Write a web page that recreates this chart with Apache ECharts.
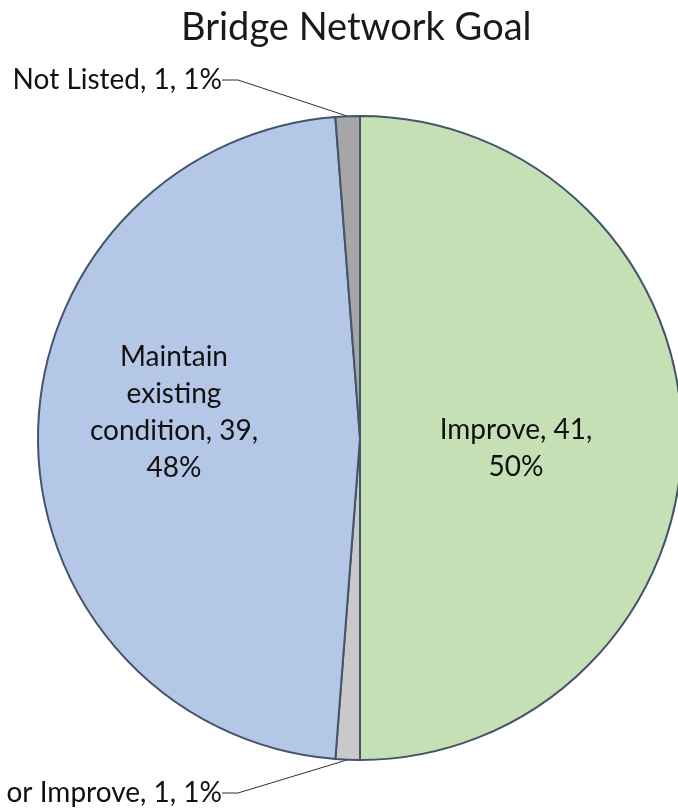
<!DOCTYPE html>
<html>
<head>
<meta charset="utf-8">
<script src="https://cdn.jsdelivr.net/npm/echarts@6/dist/echarts.min.js"></script>
<style>
html,body{margin:0;padding:0;background:#fff;}
#chart{width:678px;height:808px;}
</style>
</head>
<body>
<div id="chart"></div>
<script>
const titleText = 'Bridge Network Goal';
const categories = ['Improve', 'Maintain or Improve', 'Maintain existing\ncondition', 'Not Listed'];
const values = [41, 1, 39, 1];
const colors = ['#C5E0B4', '#C9C9C9', '#B4C7E7', '#A6A6A6'];
const labelModes = ['inside', 'outside', 'inside', 'outside'];

const total = values.reduce((a, b) => a + b, 0);
const FONT = 'Lato, "Open Sans", sans-serif';

const data = categories.map((c, i) => ({
  name: c,
  value: values[i],
  itemStyle: { color: colors[i] },
  label: labelModes[i] === 'inside'
    ? { position: 'inside' }
    : { position: 'outside' },
  labelLine: { show: labelModes[i] === 'outside' }
}));

const chart = echarts.init(document.getElementById('chart'));
chart.setOption({
  animation: false,
  backgroundColor: '#fff',
  title: {
    text: titleText,
    left: 176,
    top: 4,
    textStyle: { fontFamily: FONT, fontSize: 38, fontWeight: 'normal', color: '#1a1a1a' }
  },
  series: [{
    type: 'pie',
    center: [360, 438],
    radius: 322,
    startAngle: 90,
    clockwise: true,
    avoidLabelOverlap: false,
    itemStyle: { borderColor: '#44546A', borderWidth: 2 },
    label: {
      fontFamily: FONT,
      fontSize: 28,
      lineHeight: 37,
      color: '#111',
      align: 'center',
      formatter: p => {
        const pct = Math.round(p.value / total * 100);
        if (p.name === 'Maintain existing\ncondition') {
          return 'Maintain\nexisting\ncondition, ' + p.value + ',\n' + pct + '%';
        }
        if (p.name === 'Improve') {
          return p.name + ', ' + p.value + ',\n' + pct + '%';
        }
        return p.name + ', ' + p.value + ', ' + pct + '%';
      }
    },
    labelLine: {
      show: true,
      length: 20,
      length2: 16,
      lineStyle: { color: '#303030', width: 1 }
    },
    labelLayout: function (params) {
      const i = params.dataIndex;
      if (i === 0) return { dx: -8, dy: 10 };
      if (i === 2) return { dx: -22, dy: -26 };
      if (i === 3) return { x: 222, y: 80, align: 'right', verticalAlign: 'middle' };
      if (i === 1) return { x: 222, y: 793, align: 'right', verticalAlign: 'middle' };
      return {};
    },
    data: data
  }]
});
</script>
</body>
</html>
